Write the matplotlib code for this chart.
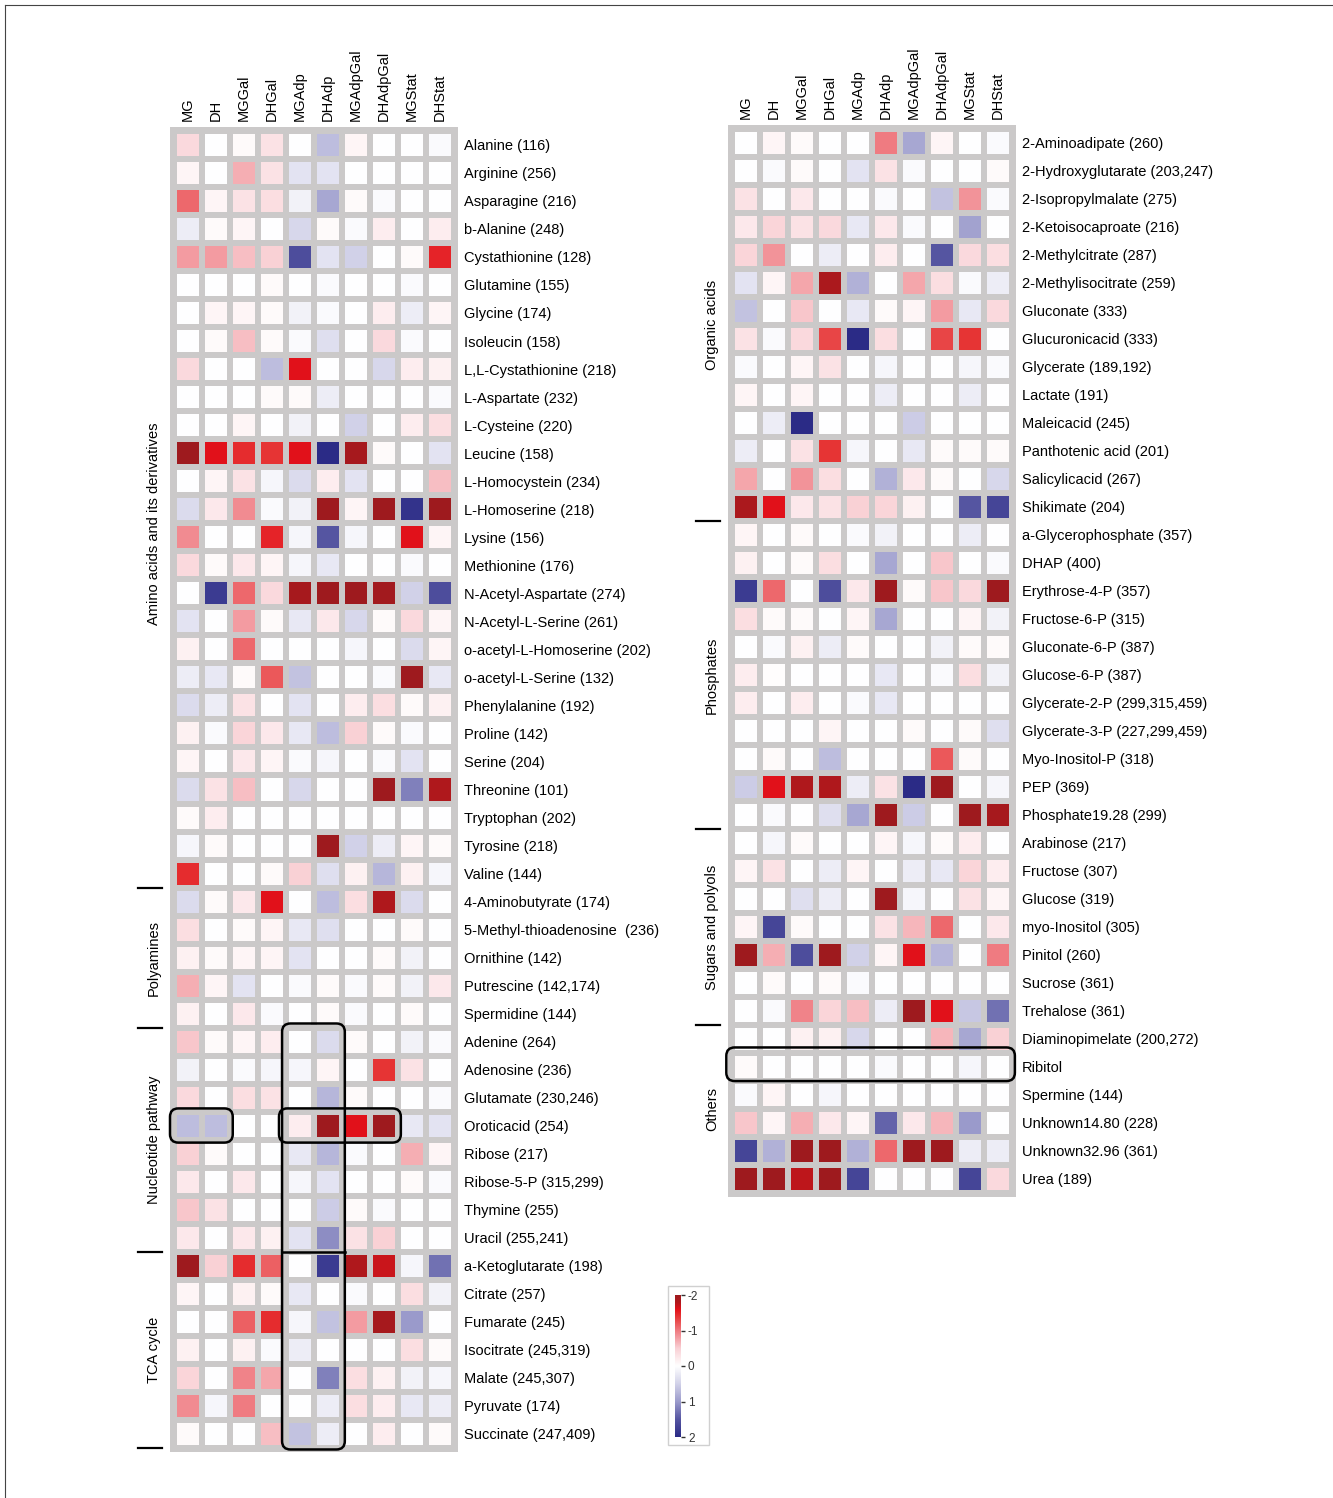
import numpy as np
import matplotlib
matplotlib.use("Agg")
import matplotlib.pyplot as plt
from matplotlib.colors import LinearSegmentedColormap
from matplotlib.patches import FancyBboxPatch, Rectangle
from matplotlib.lines import Line2D

plt.rcParams['font.family'] = ['Liberation Sans', 'DejaVu Sans']

columns = ["MG", "DH", "MGGal", "DHGal", "MGAdp", "DHAdp", "MGAdpGal", "DHAdpGal", "MGStat", "DHStat"]

# ---------------- left panel ----------------
amino_names = ["Alanine (116)", "Arginine (256)", "Asparagine (216)", "b-Alanine (248)", "Cystathionine (128)",
               "Glutamine (155)", "Glycine (174)", "Isoleucin (158)", "L,L-Cystathionine (218)", "L-Aspartate (232)",
               "L-Cysteine (220)", "Leucine (158)", "L-Homocystein (234)", "L-Homoserine (218)", "Lysine (156)",
               "Methionine (176)", "N-Acetyl-Aspartate (274)", "N-Acetyl-L-Serine (261)", "o-acetyl-L-Homoserine (202)",
               "o-acetyl-L-Serine (132)", "Phenylalanine (192)", "Proline (142)", "Serine (204)", "Threonine (101)",
               "Tryptophan (202)", "Tyrosine (218)", "Valine (144)"]
amino_vals = [
    [-0.4, 0, -0.05, -0.3, 0, 0.7, -0.1, 0, 0, 0.05],
    [-0.1, 0, -0.7, -0.3, 0.3, 0.3, 0, 0, 0, 0],
    [-1.1, -0.1, -0.3, -0.35, 0.15, 0.9, -0.05, 0.05, 0, 0],
    [0.2, -0.05, -0.1, 0, 0.45, -0.05, 0.05, -0.2, 0, -0.2],
    [-0.8, -0.8, -0.6, -0.5, 1.6, 0.3, 0.5, 0, -0.05, -1.5],
    [0, 0, 0, -0.05, 0, 0.05, 0, 0, 0.05, 0],
    [0, -0.1, -0.1, -0.05, 0.15, 0.05, 0, -0.2, 0.2, -0.1],
    [0, -0.05, -0.6, -0.05, 0.05, 0.35, 0, -0.4, 0.05, 0],
    [-0.4, 0, 0, 0.7, -1.6, 0, 0, 0.45, -0.2, -0.15],
    [0, 0, 0, -0.05, -0.05, 0.2, 0, 0, 0, 0.05],
    [0, 0, -0.1, 0, 0.15, 0, 0.5, 0, -0.2, -0.35],
    [-2.0, -1.6, -1.45, -1.4, -1.6, 2.0, -1.9, -0.05, 0, 0.3],
    [0, -0.1, -0.3, 0.1, 0.4, -0.2, 0.3, 0, 0, -0.6],
    [0.4, -0.25, -0.9, 0.05, 0.15, -2.0, -0.1, -2.0, 1.9, -2.0],
    [-0.9, 0, 0, -1.5, 0.1, 1.5, 0.1, 0, -1.6, -0.1],
    [-0.4, -0.05, -0.25, -0.1, 0.1, 0.25, 0, 0, 0.05, 0],
    [0, 1.8, -1.1, -0.4, -1.9, -2.0, -2.0, -1.95, 0.5, 1.6],
    [0.3, 0, -0.8, -0.05, 0.25, -0.25, 0.45, -0.05, -0.4, -0.1],
    [-0.15, 0, -1.1, 0, 0, 0, 0.1, 0, 0.4, -0.1],
    [0.2, 0.25, -0.05, -1.2, 0.65, 0, 0, 0.05, -2.0, 0.25],
    [0.4, 0.2, -0.3, 0, 0.3, 0, -0.2, -0.35, -0.05, -0.15],
    [-0.15, 0.05, -0.45, -0.25, 0.25, 0.7, -0.5, -0.05, 0.05, 0],
    [-0.1, 0, -0.25, -0.1, 0.05, 0.1, 0, 0.05, 0.3, 0],
    [0.4, -0.3, -0.6, 0, 0.45, 0, 0, -2.0, 1.2, -1.8],
    [-0.05, -0.2, 0, 0, 0, 0, 0, 0, 0, 0],
    [0.1, -0.05, 0, 0, 0, -2.0, 0.5, 0.2, -0.1, -0.05],
    [-1.45, 0, 0, -0.05, -0.5, 0.35, -0.15, 0.75, -0.15, 0.1],
]
poly_names = ["4-Aminobutyrate (174)", "5-Methyl-thioadenosine  (236)", "Ornithine (142)", "Putrescine (142,174)",
              "Spermidine (144)"]
poly_vals = [
    [0.4, -0.05, -0.25, -1.6, 0, 0.7, -0.35, -1.8, 0.4, 0],
    [-0.35, 0, -0.05, -0.1, 0.25, 0.35, 0, 0, -0.05, 0],
    [-0.15, -0.05, -0.1, -0.1, 0.3, 0, 0, -0.05, 0.15, 0],
    [-0.7, -0.1, 0.3, 0, 0.05, -0.05, 0.05, -0.05, 0.15, -0.25],
    [-0.15, 0, -0.25, 0.05, 0, -0.05, 0.05, 0, -0.05, 0],
]
nucl_names = ["Adenine (264)", "Adenosine (236)", "Glutamate (230,246)", "Oroticacid (254)", "Ribose (217)",
              "Ribose-5-P (315,299)", "Thymine (255)", "Uracil (255,241)"]
nucl_vals = [
    [-0.55, -0.05, -0.1, -0.2, 0, 0.4, -0.05, 0, 0.15, 0.05],
    [0.15, 0, 0.05, 0.1, 0.1, -0.1, 0, -1.4, -0.3, 0],
    [-0.4, 0, -0.35, -0.3, 0, 0.75, -0.05, 0, 0, 0.05],
    [0.7, 0.7, 0, 0, -0.2, -2.0, -1.6, -2.0, 0.25, 0.3],
    [-0.5, -0.05, 0, 0, 0.25, 0.75, 0.05, 0, -0.7, -0.1],
    [-0.25, 0, -0.25, 0, 0.1, 0.3, 0, 0, -0.05, 0.05],
    [-0.55, -0.3, 0, 0, 0, 0.55, -0.05, 0.05, 0, 0],
    [-0.25, 0, -0.25, -0.15, 0.3, 1.1, -0.3, -0.5, 0, 0],
]
tca_names = ["a-Ketoglutarate (198)", "Citrate (257)", "Fumarate (245)", "Isocitrate (245,319)", "Malate (245,307)",
             "Pyruvate (174)", "Succinate (247,409)"]
tca_vals = [
    [-2.0, -0.5, -1.45, -1.15, 0, 1.8, -1.8, -1.7, 0.1, 1.3],
    [-0.1, 0, -0.15, -0.05, 0.25, 0, 0.05, 0, -0.35, 0.15],
    [0, 0, -1.15, -1.45, 0.1, 0.65, -0.8, -1.9, 1.0, 0],
    [-0.15, 0, -0.15, 0.05, 0.2, 0, 0, 0, -0.35, -0.05],
    [-0.45, 0, -0.95, -0.75, 0, 1.2, -0.35, -0.15, 0.15, 0.1],
    [-0.9, 0.1, -1.0, 0, 0, 0.2, -0.35, -0.2, 0.25, 0.2],
    [-0.05, 0, 0, -0.6, 0.65, 0.2, 0, -0.2, 0, -0.05],
]
left_groups = ["Amino acids and its derivatives", "Polyamines", "Nucleotide pathway", "TCA cycle"]

# ---------------- right panel ----------------
org_names = ["2-Aminoadipate (260)", "2-Hydroxyglutarate (203,247)", "2-Isopropylmalate (275)",
             "2-Ketoisocaproate (216)", "2-Methylcitrate (287)", "2-Methylisocitrate (259)", "Gluconate (333)",
             "Glucuronicacid (333)", "Glycerate (189,192)", "Lactate (191)", "Maleicacid (245)",
             "Panthotenic acid (201)", "Salicylicacid (267)", "Shikimate (204)"]
org_vals = [
    [0, -0.1, -0.05, 0, 0, -1.0, 0.9, -0.1, 0, 0.05],
    [0, 0.05, -0.05, 0, 0.3, -0.3, 0.05, 0, 0, -0.05],
    [-0.3, 0, -0.25, 0, 0, 0.05, 0, 0.65, -0.85, 0.05],
    [-0.25, -0.45, -0.3, -0.4, 0.25, -0.25, 0.05, 0, 0.95, 0],
    [-0.45, -0.85, 0, 0.2, 0, -0.2, 0, 1.5, -0.4, -0.35],
    [0.3, -0.1, -0.75, -1.85, 0.8, 0, -0.75, -0.35, 0.05, 0.2],
    [0.65, 0, -0.55, 0, 0.25, -0.05, -0.1, -0.8, 0.25, -0.4],
    [-0.3, 0.05, -0.4, -1.3, 2.0, -0.35, 0, -1.3, -1.4, 0],
    [0.05, 0, -0.1, -0.3, 0, 0.1, 0, 0, 0.1, 0.05],
    [-0.1, 0, -0.1, 0, 0, 0.2, 0, 0, 0.2, 0],
    [0, 0.2, 2.0, 0, 0, 0, 0.55, 0, 0, 0],
    [0.2, 0, -0.3, -1.4, 0.1, 0, 0.25, -0.05, -0.05, -0.05],
    [-0.75, 0, -0.85, -0.35, 0, 0.8, -0.25, -0.05, 0, 0.45],
    [-1.85, -1.6, -0.25, -0.3, -0.5, -0.45, -0.15, 0, 1.5, 1.7],
]
phos_names = ["a-Glycerophosphate (357)", "DHAP (400)", "Erythrose-4-P (357)", "Fructose-6-P (315)",
              "Gluconate-6-P (387)", "Glucose-6-P (387)", "Glycerate-2-P (299,315,459)",
              "Glycerate-3-P (227,299,459)", "Myo-Inositol-P (318)", "PEP (369)", "Phosphate19.28 (299)"]
phos_vals = [
    [-0.1, 0, -0.05, 0, 0.05, 0.15, 0, 0, 0.2, 0],
    [-0.15, 0, -0.05, -0.35, 0, 0.9, 0, -0.55, 0, 0.05],
    [1.8, -1.1, 0, 1.6, -0.25, -2.0, -0.05, -0.55, -0.4, -2.0],
    [-0.35, -0.05, -0.05, 0, -0.1, 0.9, 0, 0, -0.1, 0.15],
    [0, 0.05, -0.15, 0.2, -0.05, 0, 0, 0.15, -0.05, -0.05],
    [-0.2, -0.02, 0, 0, 0, 0.25, 0, 0.05, -0.35, 0.15],
    [-0.2, 0, -0.2, 0, 0.05, 0.25, 0, 0, 0, 0],
    [0, 0, 0, -0.1, 0, 0, -0.05, 0, -0.05, 0.35],
    [0, -0.05, 0, 0.7, 0, 0, 0, -1.2, -0.05, 0],
    [0.55, -1.6, -1.8, -1.8, 0.2, -0.3, 2.0, -2.0, 0, 0.1],
    [0, 0.05, 0, 0.35, 0.9, -2.0, 0.55, 0, -2.0, -1.9],
]
sugar_names = ["Arabinose (217)", "Fructose (307)", "Glucose (319)", "myo-Inositol (305)", "Pinitol (260)",
               "Sucrose (361)", "Trehalose (361)"]
sugar_vals = [
    [0, 0.1, -0.05, 0, 0, -0.1, 0.1, -0.05, -0.2, 0],
    [-0.1, -0.3, 0, 0.2, -0.1, 0, 0.2, 0.25, -0.45, -0.2],
    [0, 0, 0.35, 0.2, 0, -2.0, 0.1, 0, -0.3, -0.1],
    [-0.1, 1.7, -0.05, 0, 0, -0.3, -0.65, -1.1, 0, -0.25],
    [-2.0, -0.7, 1.6, -2.0, 0.5, -0.1, -1.6, 0.75, 0, -1.0],
    [0, -0.05, 0, -0.05, 0.05, 0, 0, 0, 0, 0],
    [0, 0.05, -0.95, -0.45, -0.6, 0.2, -2.0, -1.6, 0.6, 1.3],
]
other_names = ["Diaminopimelate (200,272)", "Ribitol", "Spermine (144)", "Unknown14.80 (228)",
               "Unknown32.96 (361)", "Urea (189)"]
other_vals = [
    [0, 0, -0.15, -0.15, 0.45, 0, 0, -0.65, 0.9, -0.5],
    [-0.05, 0, 0, 0, 0, 0.05, 0, 0, 0.1, 0],
    [0.05, -0.1, 0, 0.1, 0, 0, 0, 0, 0, 0],
    [-0.55, -0.1, -0.7, -0.25, -0.1, 1.4, -0.25, -0.65, 1.0, 0],
    [1.7, 0.8, -2.0, -2.0, 0.8, -1.1, -2.0, -2.0, 0.2, 0.2],
    [-2.0, -2.0, -1.75, -2.0, 1.7, 0, 0, 0, 1.7, -0.4],
]
right_groups = ["Organic acids", "Phosphates", "Sugars and polyols", "Others"]

cbar_ticks = [-2, -1, 0, 1, 2]
cbar_labels = ["-2", "-1", "0", "1", "2"]

# ---------------- colormap ----------------
cmap = LinearSegmentedColormap.from_list("rb", [
    (0.000, "#9e1a1e"), (0.05, "#b0181c"), (0.10, "#e3111a"), (0.15, "#e63535"),
    (0.25, "#ef7a80"), (0.375, "#f9d0d5"),
    (0.5, "#ffffff"),
    (0.625, "#d2d2e9"), (0.75, "#9c9ccc"), (0.875, "#5656a2"), (1.0, "#2b2b86")])

W, H = 1333, 1498
fig = plt.figure(figsize=(W / 100, H / 100), dpi=100)
fig.patch.set_facecolor("white")
GREY = "#cbc9c9"


def add_px_axes(x0, y0, x1, y1):
    return fig.add_axes([x0 / W, 1 - y1 / H, (x1 - x0) / W, (y1 - y0) / H])


def draw_panel(ax, names, vals, groups, sizes, label_pos, sep_lines):
    data = np.array(vals, dtype=float)
    n = data.shape[0]
    m = 0.14
    ax.set_facecolor(GREY)
    ax.pcolormesh(np.arange(11), np.arange(n + 1), data, cmap=cmap, vmin=-2, vmax=2,
                  edgecolors=GREY, linewidth=2.9)
    ax.set_xlim(-m, 10 + m)
    ax.set_ylim(n + m, -m)
    for s in ax.spines.values():
        s.set_visible(False)
    ax.set_xticks([])
    ax.set_yticks([])
    for j, c in enumerate(columns):
        ax.text(j + 0.5, -0.35, c, rotation=90, ha="center", va="bottom", fontsize=10.5)
    for i, nm in enumerate(names):
        ax.text(10.35, i + 0.55, nm, ha="left", va="center", fontsize=10.5)
    start = 0
    for g, s, lp in zip(groups, sizes, label_pos):
        yc = start + s / 2 if lp is None else lp
        ax.text(-0.72, yc, g, rotation=90, ha="center", va="center", fontsize=10.5)
        start += s
    for yb in sep_lines:
        ax.add_line(Line2D([-1.28, -0.42], [yb, yb], color="black", lw=1.6, clip_on=False))
    return ax


# left
left_names = amino_names + poly_names + nucl_names + tca_names
left_vals = amino_vals + poly_vals + nucl_vals + tca_vals
left_sizes = [len(amino_names), len(poly_names), len(nucl_names), len(tca_names)]
axL = add_px_axes(170, 127, 458, 1452)
draw_panel(axL, left_names, left_vals, left_groups, left_sizes, [14.0, None, None, None],
           [27, 32, 40, 47])

# right
right_names = org_names + phos_names + sugar_names + other_names
right_vals = org_vals + phos_vals + sugar_vals + other_vals
right_sizes = [len(org_names), len(phos_names), len(sugar_names), len(other_names)]
axR = add_px_axes(728, 125, 1016, 1197)
draw_panel(axR, right_names, right_vals, right_groups, right_sizes, [None, None, None, None],
           [14, 25, 32])


def rbox(ax, x0, y0, x1, y1):
    p = FancyBboxPatch((x0, y0), x1 - x0, y1 - y0, boxstyle="round,pad=0,rounding_size=0.3",
                       fill=False, ec="black", lw=1.8, clip_on=False, zorder=5)
    ax.add_patch(p)


rbox(axL, 3.86, 31.85, 6.1, 47.05)
rbox(axL, -0.14, 34.88, 2.1, 36.1)
rbox(axL, 3.75, 34.88, 8.1, 36.1)
axL.add_line(Line2D([3.86, 6.1], [40, 40], color="black", lw=1.8, zorder=5))
rbox(axR, -0.2, 32.8, 10.1, 34.0)

# colorbar
fig.add_artist(Rectangle((668 / W, 1 - 1445 / H), 41 / W, 159 / H, transform=fig.transFigure,
                         fill=False, ec="#d0d0d0", lw=1.0))
cax = add_px_axes(675, 1295, 681, 1437)
grad = np.linspace(-2, 2, 256).reshape(-1, 1)
cax.imshow(grad, aspect="auto", cmap=cmap, vmin=-2, vmax=2, extent=[0, 1, 2, -2])
cax.set_ylim(2, -2)
cax.set_xticks([])
cax.yaxis.tick_right()
cax.set_yticks(cbar_ticks)
cax.set_yticklabels(cbar_labels, fontsize=8.5)
cax.tick_params(axis="y", length=3, width=1, direction="out", pad=2, colors="#333333")
for s in cax.spines.values():
    s.set_visible(False)

# outer frame lines
fig.add_artist(Line2D([5 / W, 1], [1 - 5 / H, 1 - 5 / H], transform=fig.transFigure, color="#444444", lw=0.8))
fig.add_artist(Line2D([5 / W, 5 / W], [0, 1 - 5 / H], transform=fig.transFigure, color="#444444", lw=0.8))

fig.savefig("out.png", dpi=100)
